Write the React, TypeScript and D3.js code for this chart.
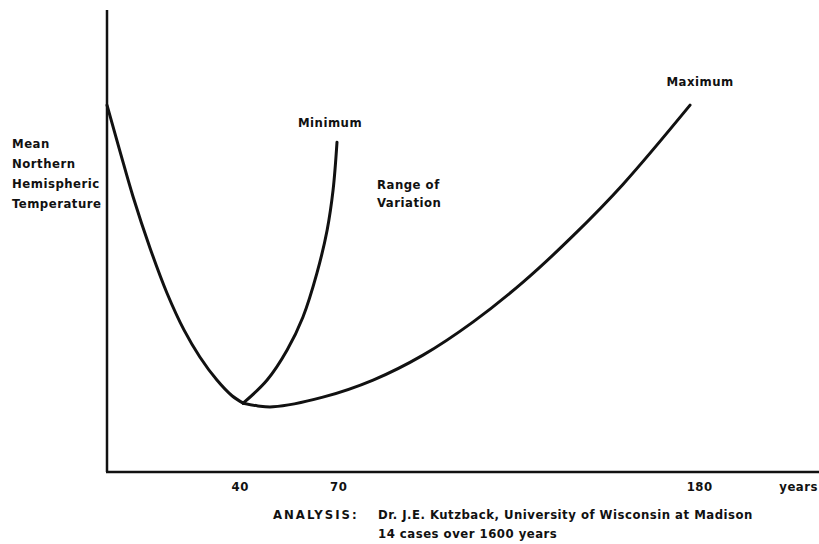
import * as React from "react";
import { useRef, useEffect } from "react";
import * as d3 from "d3";

// years since start of record
const tickYears = [40, 70, 180];

// shared falling limb (year, relative temperature)
const fallYears = [0, 4.0, 7.9, 13.1, 18.3, 23.5, 28.3, 33.5, 38.1, 41.5];
const fallTemps = [79.4, 69.3, 59.7, 48.5, 38.7, 30.7, 24.9, 19.9, 16.5, 14.9];

// minimum recovery
const minYears = [41.5, 48.8, 54.9, 59.7, 64.0, 67.1, 68.9, 70.1];
const minTemps = [14.9, 19.9, 26.4, 33.5, 43.1, 52.4, 61.0, 71.4];

// maximum recovery
const maxYears = [41.5, 46.0, 50.6, 65.8, 81.1, 96.3, 111.6, 126.8, 142.0, 157.3, 177.7];
const maxTemps = [14.9, 14.3, 14.1, 16.2, 19.9, 25.3, 32.5, 41.1, 51.1, 62.3, 79.4];

const yLabelLines = ["Mean", "Northern", "Hemispheric", "Temperature"];
const noteLines = [
  "Dr. J.E. Kutzback, University of Wisconsin at Madison",
  "14 cases over 1600 years",
];

const FONT = "'DejaVu Sans Condensed', 'Liberation Sans Narrow', sans-serif";

export default function App() {
  const svgRef = useRef<SVGSVGElement>(null);

  useEffect(() => {
    document.body.style.margin = "0";
    const width = 819;
    const height = 544;

    const svg = d3.select(svgRef.current).attr("width", width).attr("height", height);
    svg.selectAll("*").remove();

    const x = d3.scaleLinear().domain([0, 217]).range([107, 819]);
    const y = d3.scaleLinear().domain([0, 100]).range([472, 10]);

    // axes (plain lines, no y ticks)
    svg.append("line")
      .attr("x1", x(0)).attr("x2", x(0))
      .attr("y1", y(100)).attr("y2", y(0))
      .attr("stroke", "#111").attr("stroke-width", 2.5);
    svg.append("line")
      .attr("x1", x(0) - 1).attr("x2", x(217))
      .attr("y1", y(0)).attr("y2", y(0))
      .attr("stroke", "#111").attr("stroke-width", 2.5);

    // curves
    const line = d3.line<[number, number]>()
      .x((d) => x(d[0]))
      .y((d) => y(d[1]))
      .curve(d3.curveCatmullRom.alpha(0.5));

    const series = [
      fallYears.map((v, i) => [v, fallTemps[i]] as [number, number]),
      minYears.map((v, i) => [v, minTemps[i]] as [number, number]),
      maxYears.map((v, i) => [v, maxTemps[i]] as [number, number]),
    ];
    svg.selectAll("path.curve")
      .data(series)
      .enter()
      .append("path")
      .attr("class", "curve")
      .attr("d", (d) => line(d))
      .attr("fill", "none")
      .attr("stroke", "#111")
      .attr("stroke-width", 3)
      .attr("stroke-linecap", "round");

    const text = (tx: number, ty: number, s: string, anchor = "start", spacing = 0.5) =>
      svg.append("text")
        .attr("x", tx).attr("y", ty)
        .attr("text-anchor", anchor)
        .attr("font-family", FONT)
        .attr("font-size", 13)
        .attr("font-weight", "bold")
        .attr("letter-spacing", spacing)
        .attr("fill", "#111")
        .text(s);

    // x tick labels
    tickYears.forEach((t) => text(x(t) + 2, 491, String(t), "middle"));
    text(818, 491, "years", "end");

    // y label
    yLabelLines.forEach((s, i) => text(12, 148 + i * 20, s));

    // curve labels
    text(x(minYears[minYears.length - 1]) - 7, 127, "Minimum", "middle");
    text(x(maxYears[maxYears.length - 1]) + 10, 86, "Maximum", "middle");
    text(377, 189, "Range of");
    text(377, 207, "Variation");

    // source note
    text(273, 519, "ANALYSIS:", "start", 2);
    noteLines.forEach((s, i) => text(378, 519 + i * 19, s));
  }, []);

  return <svg ref={svgRef} style={{ display: "block", background: "#fff" }}></svg>;
}
